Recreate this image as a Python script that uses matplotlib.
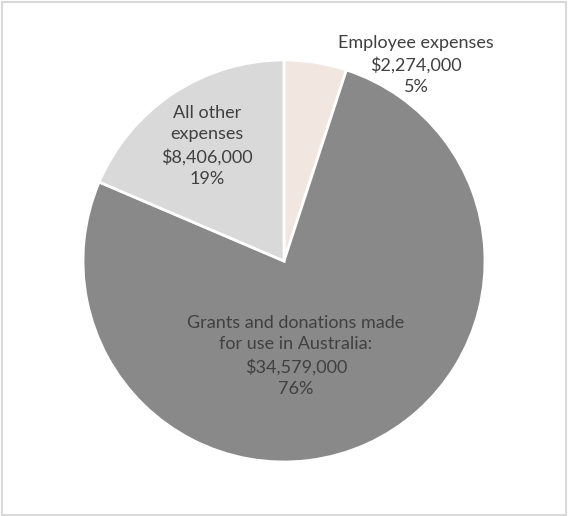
import matplotlib.pyplot as plt
from matplotlib.patches import Rectangle

# expense categories, clockwise from 12 o'clock
categories = ["Employee expenses", "Grants and donations made\nfor use in Australia:", "All other\nexpenses"]
amounts = [2274000, 34579000, 8406000]
percents = ["5%", "76%", "19%"]
colors = ["#F2E6E1", "#898989", "#D9D9D9"]

# label anchor points (pixels from top-left) and text colour
label_pos = [(416, 65), (296, 356), (207, 146)]
text_col = "#404040"

W, H = 568, 516

plt.rcParams['font.family'] = ['Lato', 'DejaVu Sans']

fig = plt.figure(figsize=(W / 100, H / 100), dpi=100)
ax = fig.add_axes([0, 0, 1, 1])

ax.pie(amounts, colors=colors, startangle=90, counterclock=False,
       center=(284, H - 261), radius=201,
       wedgeprops=dict(edgecolor='white', linewidth=2))
ax.set_xlim(0, W)
ax.set_ylim(0, H)
ax.set_aspect('equal')
ax.axis('off')

for name, amt, pct, (x, y) in zip(categories, amounts, percents, label_pos):
    txt = f"{name}\n${amt:,}\n{pct}"
    ax.text(x, H - y, txt, ha='center', va='center', fontsize=13,
            color=text_col, linespacing=1.45)

# thin frame around the chart area
fig.patches.append(Rectangle((2, 1), 564, 513, transform=None, fill=False,
                             edgecolor='#D9D9D9', linewidth=1.5))

fig.savefig("out.png", dpi=100)
